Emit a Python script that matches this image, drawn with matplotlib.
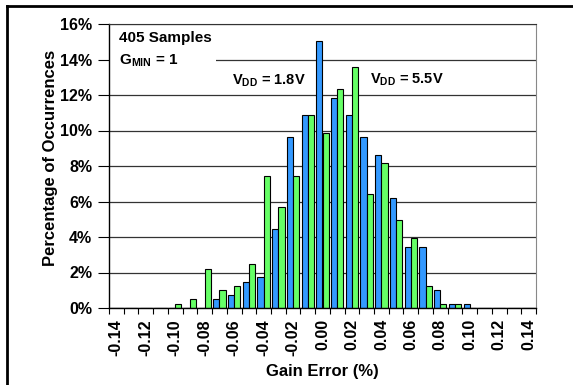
import matplotlib
matplotlib.use('Agg')
import matplotlib.pyplot as plt
from matplotlib.lines import Line2D
from matplotlib.patches import Rectangle
import numpy as np

plt.rcParams['font.family'] = ['Liberation Sans', 'DejaVu Sans']
plt.rcParams['font.weight'] = 'bold'
plt.rcParams['mathtext.fontset'] = 'custom'
plt.rcParams['mathtext.rm'] = 'Liberation Sans:bold'
plt.rcParams['mathtext.bf'] = 'Liberation Sans:bold'
plt.rcParams['mathtext.it'] = 'Liberation Sans:bold'

# gain error bins (%)
categories = ['-0.14', '-0.13', '-0.12', '-0.11', '-0.10', '-0.09', '-0.08', '-0.07',
              '-0.06', '-0.05', '-0.04', '-0.03', '-0.02', '-0.01', '0.00', '0.01',
              '0.02', '0.03', '0.04', '0.05', '0.06', '0.07', '0.08', '0.09', '0.10',
              '0.11', '0.12', '0.13', '0.14']
# percentage of occurrences, VDD = 1.8V (blue)
vdd_18 = [0, 0, 0, 0, 0, 0, 0, 0.49, 0.74, 1.48, 1.73, 4.44, 9.63, 10.86, 15.06,
          11.85, 10.86, 9.63, 8.64, 6.17, 3.46, 3.46, 0.99, 0.25, 0.25, 0, 0, 0, 0]
# percentage of occurrences, VDD = 5.5V (green)
vdd_55 = [0, 0, 0, 0, 0.25, 0.49, 2.22, 0.99, 1.23, 2.47, 7.41, 5.68, 7.41, 10.86, 9.88,
          12.35, 13.58, 6.42, 8.15, 4.94, 3.95, 1.23, 0.25, 0.25, 0, 0, 0, 0, 0]
y_ticks = [0, 2, 4, 6, 8, 10, 12, 14, 16]

fig = plt.figure(figsize=(5.73, 3.85), dpi=100)
ax = fig.add_axes([109 / 573, 1 - 308 / 385, 427 / 573, 284 / 385])

x = np.arange(len(categories))
w = 0.42
ax.bar(x - w / 2, vdd_18, w, color='#3399FF', edgecolor='black', linewidth=0.8, zorder=2)
ax.bar(x + w / 2, vdd_55, w, color='#66FF66', edgecolor='black', linewidth=0.8, zorder=2)

ax.set_xlim(-0.5, len(categories) - 0.5)
ax.set_ylim(0, 16)
ax.set_yticks(y_ticks)
ax.set_yticklabels(['%d%%' % v for v in y_ticks], fontsize=11.5, fontweight='bold')
ax.set_axisbelow(True)
ax.yaxis.grid(True, color='#333333', linewidth=0.9)

# labels on every other bin, tick marks at bin boundaries
ax.set_xticks(x[::2])
ax.set_xticklabels(categories[::2], rotation=90, fontsize=11.5, fontweight='bold')
ax.set_xticks(np.arange(len(categories) + 1) - 0.5, minor=True)
ax.tick_params(axis='x', which='major', length=0, pad=8)
ax.tick_params(axis='x', which='minor', length=4, width=0.8, direction='out')
ax.tick_params(axis='y', length=8, width=0.8, direction='out', pad=4)

for s in ['left', 'bottom']:
    ax.spines[s].set_color('black')
    ax.spines[s].set_linewidth(1.0)
ax.spines['top'].set_color('#333333')
ax.spines['right'].set_color('#888888')

ax.set_xlabel('Gain Error (%)', fontsize=12, fontweight='bold')
ax.set_ylabel('Percentage of Occurrences', fontsize=12, fontweight='bold')
ax.xaxis.set_label_coords(0.5, -0.197)
ax.yaxis.set_label_coords(-0.119, 0.53)

# white patch behind the sample note
ax.add_patch(Rectangle((0, 0.8), 0.25, 0.18, transform=ax.transAxes,
                       facecolor='white', edgecolor='none', zorder=1))
ax.text(0.023, 0.975, '405 Samples', transform=ax.transAxes, fontsize=11,
        fontweight='bold', va='top', ha='left', zorder=3)
ax.text(0.023, 0.9, r'G$_{MIN}$ = 1', transform=ax.transAxes, fontsize=11,
        fontweight='bold', va='top', ha='left', zorder=3)
ax.text(0.288, 0.80, r'V$_{DD}$ = 1.8V', transform=ax.transAxes, fontsize=10.5,
        fontweight='bold', va='center', ha='left', zorder=3)
ax.text(0.612, 0.805, r'V$_{DD}$ = 5.5V', transform=ax.transAxes, fontsize=10.5,
        fontweight='bold', va='center', ha='left', zorder=3)

# outer frame (left and top edges)
fig.add_artist(Line2D([7 / 573, 7 / 573], [0, 1 - 6 / 385], color='black', linewidth=2))
fig.add_artist(Line2D([7 / 573, 1], [1 - 6 / 385, 1 - 6 / 385], color='black', linewidth=2))

fig.savefig('out.png', dpi=100)
